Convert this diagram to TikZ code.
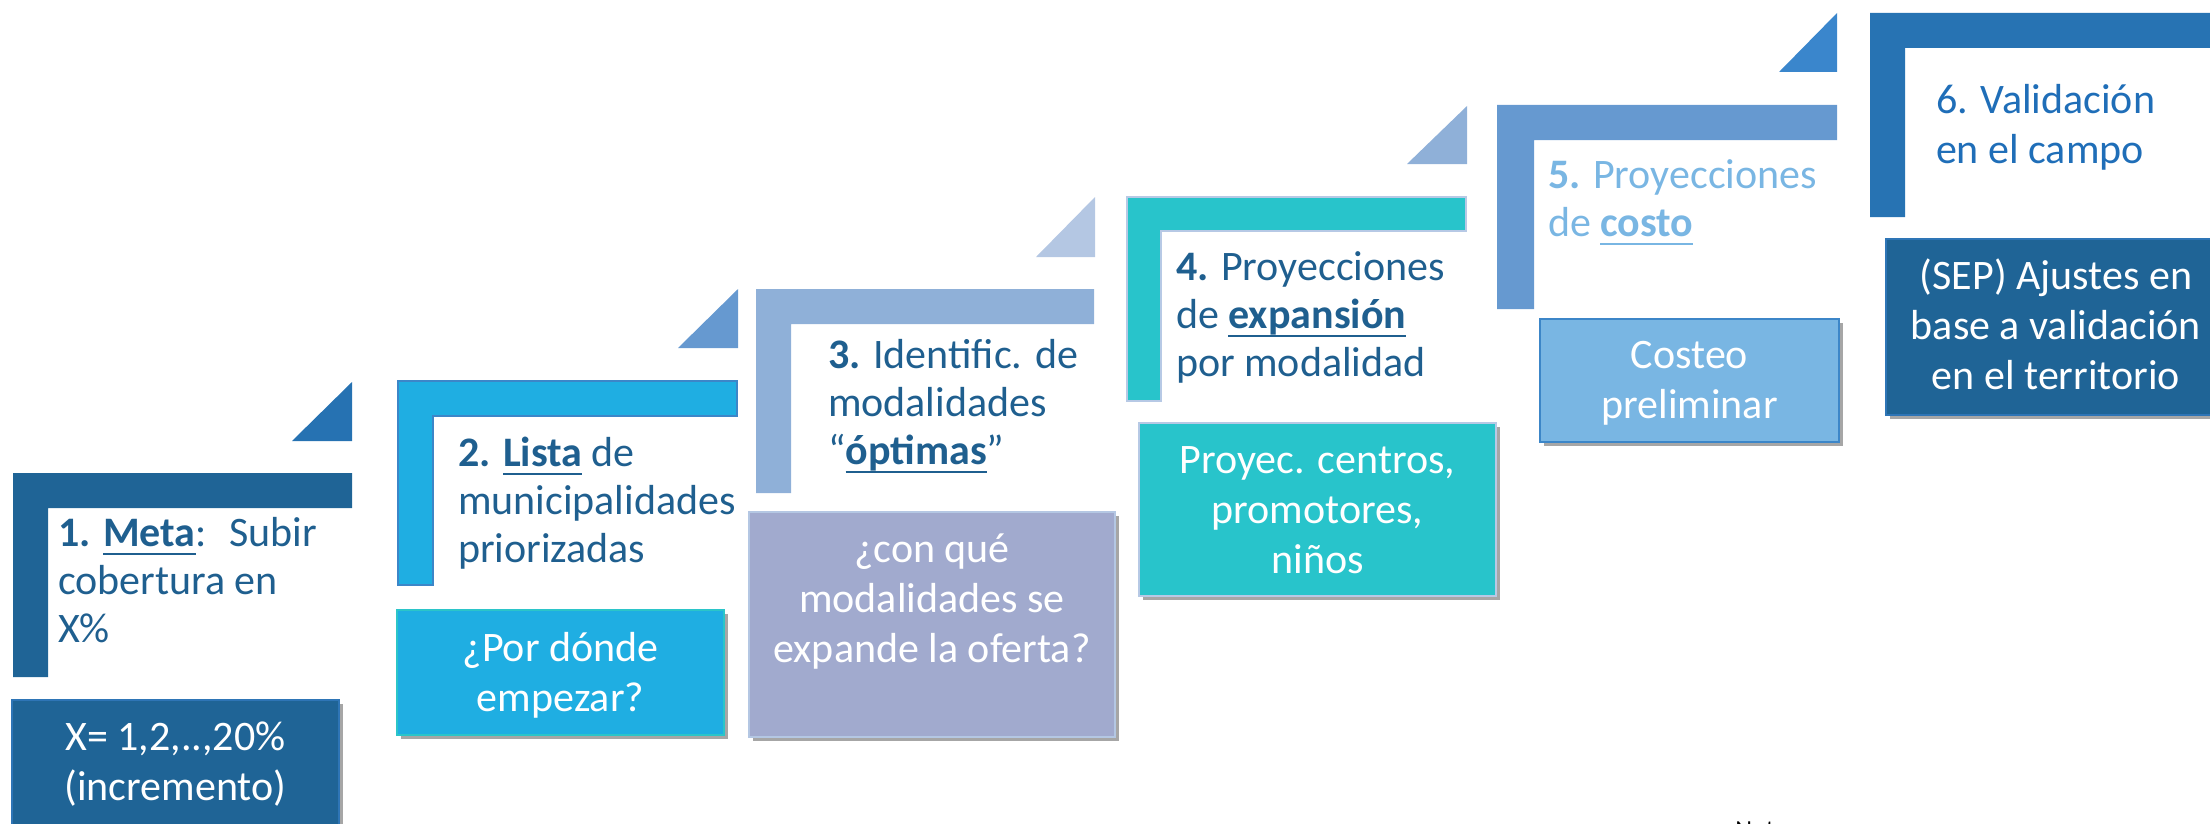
\documentclass[tikz,border=0pt]{standalone}
\usepackage{fontspec}
\setmainfont{Carlito}
\newsavebox{\myulbox}
\newcommand{\myul}[1]{\sbox{\myulbox}{#1}\makebox[0pt][l]{\rule[-4.6pt]{\wd\myulbox}{1.3pt}}\usebox{\myulbox}}
\usetikzlibrary{shadows}
\definecolor{cA}{HTML}{1F6496}
\definecolor{cAtri}{HTML}{2672B2}
\definecolor{cAbord}{HTML}{2E75B6}
\definecolor{cB}{HTML}{1FAEE2}
\definecolor{cBbord}{HTML}{3C86C8}
\definecolor{cBboxbord}{HTML}{2BC5C9}
\definecolor{cBtri}{HTML}{6699D0}
\definecolor{cC}{HTML}{8FB0D8}
\definecolor{cCbox}{HTML}{A1AACE}
\definecolor{cCbord}{HTML}{B4C7E3}
\definecolor{cCtri}{HTML}{B4C7E3}
\definecolor{cD}{HTML}{28C4CB}
\definecolor{cDbord}{HTML}{B7C9E5}
\definecolor{cDtri}{HTML}{8FB0D8}
\definecolor{cE}{HTML}{6699D0}
\definecolor{cEbox}{HTML}{79B6E3}
\definecolor{cEbord}{HTML}{3C86C8}
\definecolor{cEtri}{HTML}{3A86CC}
\definecolor{cF}{HTML}{2773B3}
\definecolor{cFbox}{HTML}{1F6496}
\definecolor{cFbord}{HTML}{2E75B6}
\definecolor{headc}{HTML}{1F5F8F}
\definecolor{headE}{HTML}{79B6E3}
\definecolor{headF}{HTML}{1F6EB8}
\tikzset{
  hd/.style={anchor=base west, inner sep=0pt, outer sep=0pt, text=headc,
    font=\fontsize{21}{24}\selectfont},
  bx/.style={rectangle, line width=1pt, inner sep=0pt, outer sep=0pt,
    drop shadow={shadow xshift=2pt, shadow yshift=-2pt, fill=black, opacity=0.35}},
  bt/.style={anchor=base, inner sep=0pt, outer sep=0pt, text=white,
    font=\fontsize{21}{25}\selectfont},
  notetext/.style={anchor=base west, inner sep=0pt, text=black,
    font=\fontsize{13}{15}\selectfont}
}
\begin{document}
\begin{tikzpicture}[x=0.5pt,y=-0.5pt]
\useasboundingbox (0,0) rectangle (2210,824);
\clip (0,0) rectangle (2210,824);

% ---- triangles
\fill[cAtri] (292,441) -- (352,441) -- (352,382) -- cycle;
\fill[cBtri] (678,348) -- (738,348) -- (738,289) -- cycle;
\fill[cCtri] (1036,257) -- (1095,257) -- (1095,197) -- cycle;
\fill[cDtri] (1407,164) -- (1467,164) -- (1467,106) -- cycle;
\fill[cEtri] (1779,72) -- (1837,72) -- (1837,13) -- cycle;

% ---- brackets
\fill[cA] (13,473) -- (352,473) -- (352,508) -- (48,508) -- (48,677) -- (13,677) -- cycle;
\filldraw[fill=cB, draw=cBbord, line width=1pt] (398,381) -- (737,381) -- (737,416) -- (433,416) -- (433,585) -- (398,585) -- cycle;
\fill[cC] (756,289) -- (1094,289) -- (1094,324) -- (791,324) -- (791,493) -- (756,493) -- cycle;
\filldraw[fill=cD, draw=cDbord, line width=1pt] (1127,197) -- (1466,197) -- (1466,231) -- (1161,231) -- (1161,401) -- (1127,401) -- cycle;
\fill[cE] (1497,105) -- (1837,105) -- (1837,140) -- (1534,140) -- (1534,309) -- (1497,309) -- cycle;
\fill[cF] (1870,13) -- (2220,13) -- (2220,48) -- (1905,48) -- (1905,217) -- (1870,217) -- cycle;

% ---- headings
\node[hd] (h1) at (58,546) {\parbox[t]{200pt}{\raggedright\textbf{1. \myul{Meta}}:~ Subir\\cobertura en\\X\%}};
\node[hd] (h2) at (458,466) {\parbox[t]{200pt}{\raggedright\textbf{2. \myul{Lista}} de\\municipalidades\\priorizadas}};
\node[hd] (h3) at (828,368) {\parbox[t]{200pt}{\raggedright\textbf{3.} Identific. de\\modalidades\\“\textbf{\myul{óptimas}}”}};
\node[hd] (h4) at (1176,280) {\parbox[t]{200pt}{\raggedright\textbf{4.} Proyecciones\\de \textbf{\myul{expansión}}\\por modalidad}};
\node[hd, text=headE] (h5) at (1548,188) {\parbox[t]{200pt}{\raggedright\textbf{5.} Proyecciones\\de \textbf{\myul{costo}}}};
\node[hd, text=headF, font=\fontsize{21}{25}\selectfont] (h6) at (1936,113) {\parbox[t]{200pt}{\raggedright 6. Validación\\en el campo}};

% ---- boxes
\node[bx, fill=cA, draw=cAbord, minimum width=163.5pt, minimum height=64pt] (b1) at (175.5,764) {};
\node[bx, fill=cB, draw=cBboxbord, minimum width=163.5pt, minimum height=62.5pt] (b2) at (560.5,672.5) {};
\node[bx, fill=cCbox, draw=cCbord, minimum width=183pt, minimum height=112.5pt] (b3) at (932,624.5) {};
\node[bx, fill=cD, draw=cDbord, minimum width=178.5pt, minimum height=86.5pt] (b4) at (1317.5,509.5) {};
\node[bx, fill=cEbox, draw=cEbord, minimum width=149.5pt, minimum height=61.5pt] (b5) at (1689.5,380.5) {};
\node[bx, fill=cFbox, draw=cFbord, minimum width=170pt, minimum height=88pt] (b6) at (2056,327) {};

% ---- box texts
\node[bt] (t1) at (175.5,750) {\parbox[t]{200pt}{\centering X= 1,2,..,20\%\\(incremento)}};
\node[bt] (t2) at (560.5,661) {\parbox[t]{200pt}{\centering ¿Por dónde\\empezar?}};
\node[bt] (t3) at (932,562) {\parbox[t]{200pt}{\centering ¿con qué\\modalidades se\\expande la oferta?}};
\node[bt] (t4) at (1317.5,473) {\parbox[t]{200pt}{\centering Proyec. centros,\\promotores,\\niños}};
\node[bt] (t5) at (1689.5,368) {\parbox[t]{200pt}{\centering Costeo\\preliminar}};
\node[bt] (t6) at (2056,289) {\parbox[t]{200pt}{\centering (SEP) Ajustes en\\base a validación\\en el territorio}};

% ---- note (cut off at the bottom edge)
\node[notetext] (note) at (1735,838) {Nota:};
\end{tikzpicture}
\end{document}
